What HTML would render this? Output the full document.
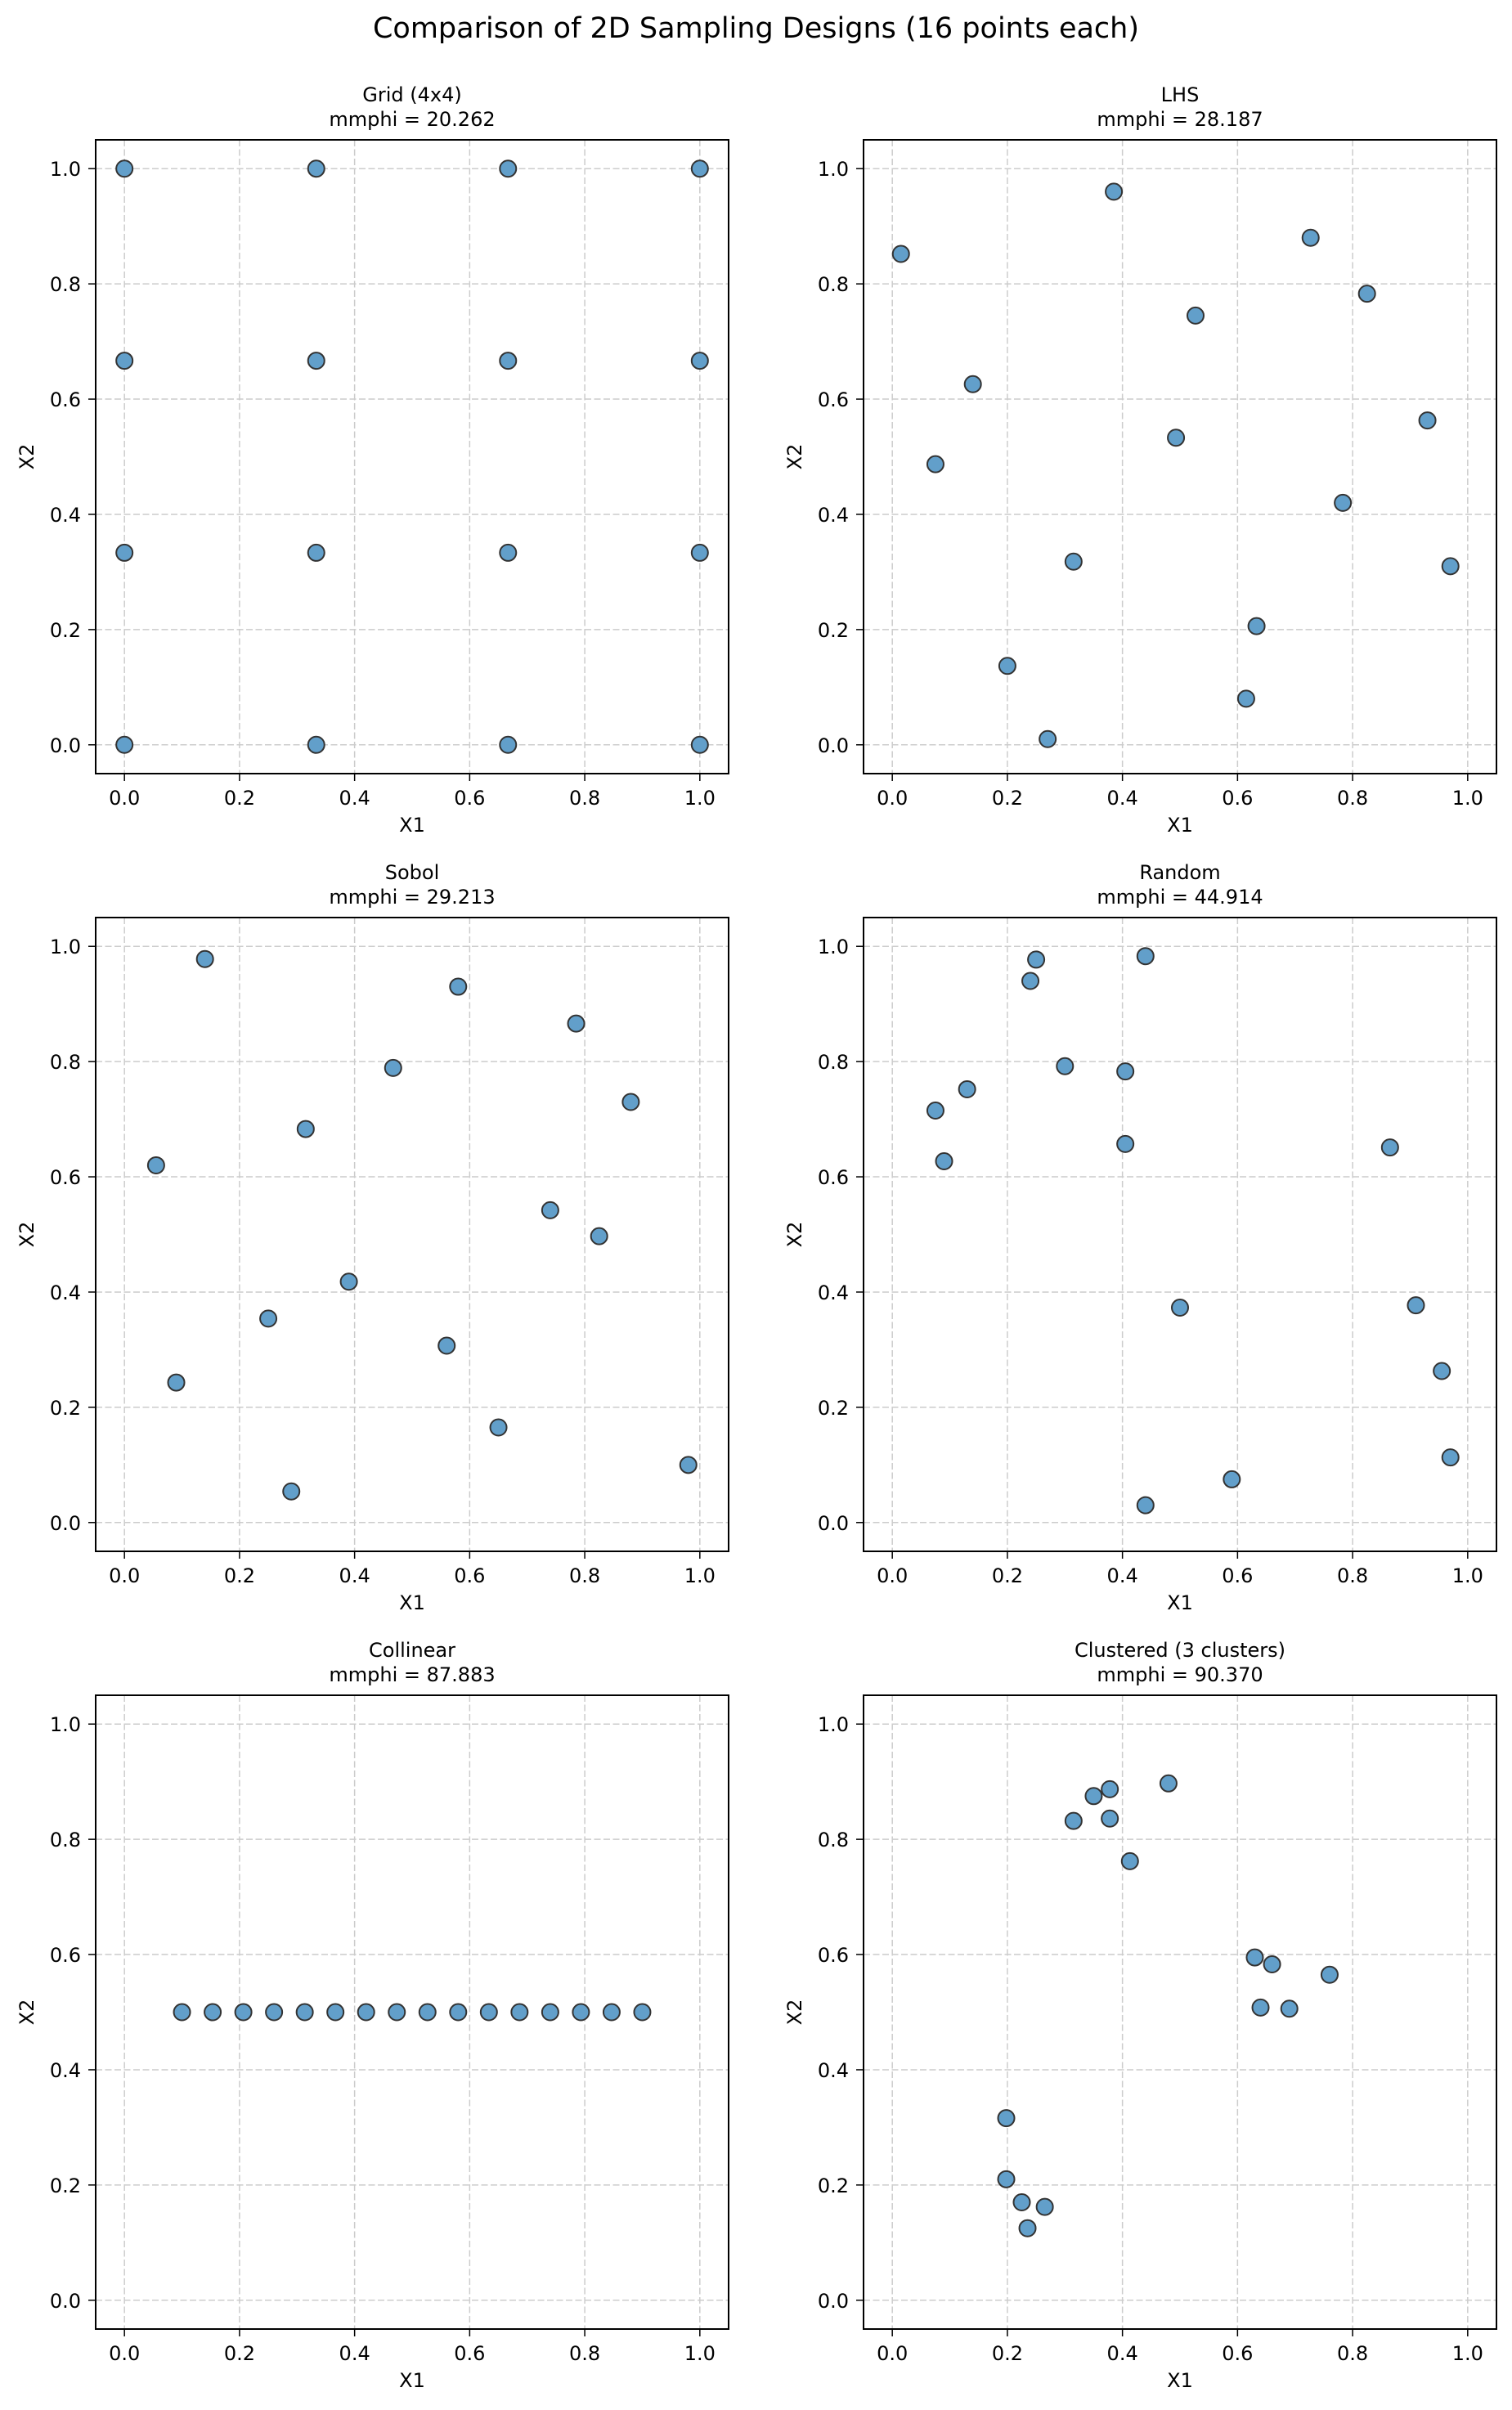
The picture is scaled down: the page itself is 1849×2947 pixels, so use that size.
<!DOCTYPE html>
<html><head><meta charset="utf-8"><style>
html,body{margin:0;padding:0;background:#fff}
svg{display:block}
text{font-family:"DejaVu Sans","Liberation Sans",sans-serif;fill:#000}
</style></head><body>
<svg id="s" width="1849" height="2947" xmlns="http://www.w3.org/2000/svg">
<text x="924.5" y="46" font-size="35" text-anchor="middle">Comparison of 2D Sampling Designs (16 points each)</text>
</svg>
<script>
const S=document.getElementById('s');const NS='http://www.w3.org/2000/svg';
function el(t,a,txt){const e=document.createElementNS(NS,t);for(const k in a)e.setAttribute(k,a[k]);if(txt!==undefined)e.textContent=txt;S.appendChild(e);return e;}
const cols=[117,1056],rows=[171,1122,2073],W=774,H=775;
const g=[];for(const y of [1,2/3,1/3,0])for(const x of [0,1/3,2/3,1])g.push([x,y]);
const col=[];for(let i=0;i<16;i++)col.push([0.1+i*0.8/15,0.5]);
const panels=[
["Grid (4x4)","mmphi = 20.262",g],
["LHS","mmphi = 28.187",[[0.015,0.852],[0.385,0.96],[0.727,0.88],[0.825,0.783],[0.527,0.745],[0.14,0.626],[0.93,0.563],[0.075,0.487],[0.493,0.533],[0.783,0.42],[0.315,0.318],[0.97,0.31],[0.633,0.206],[0.2,0.137],[0.615,0.08],[0.27,0.01]]],
["Sobol","mmphi = 29.213",[[0.14,0.978],[0.58,0.93],[0.785,0.866],[0.467,0.789],[0.88,0.73],[0.315,0.683],[0.055,0.62],[0.74,0.542],[0.825,0.497],[0.39,0.418],[0.25,0.354],[0.56,0.307],[0.09,0.243],[0.65,0.165],[0.98,0.1],[0.29,0.054]]],
["Random","mmphi = 44.914",[[0.25,0.977],[0.44,0.983],[0.24,0.94],[0.3,0.792],[0.405,0.783],[0.13,0.752],[0.075,0.715],[0.09,0.627],[0.405,0.657],[0.865,0.651],[0.5,0.373],[0.91,0.377],[0.955,0.263],[0.97,0.113],[0.59,0.075],[0.44,0.03]]],
["Collinear","mmphi = 87.883",col],
["Clustered (3 clusters)","mmphi = 90.370",[[0.315,0.832],[0.35,0.875],[0.378,0.887],[0.378,0.836],[0.48,0.897],[0.413,0.762],[0.63,0.595],[0.66,0.583],[0.76,0.565],[0.64,0.508],[0.69,0.506],[0.198,0.316],[0.198,0.21],[0.225,0.17],[0.265,0.162],[0.235,0.125]]]
];
panels.forEach((p,i)=>{
 const L=cols[i%2],T=rows[Math.floor(i/2)];
 const px=x=>L+(x+0.05)/1.1*W, py=y=>T+(1.05-y)/1.1*H;
 const ticks=[0,0.2,0.4,0.6,0.8,1.0];
 ticks.forEach(t=>{
  el('line',{x1:px(t),x2:px(t),y1:T,y2:T+H,stroke:'#cccccc','stroke-width':1.5,'stroke-dasharray':'8,3.5'});
  el('line',{x1:L,x2:L+W,y1:py(t),y2:py(t),stroke:'#cccccc','stroke-width':1.5,'stroke-dasharray':'8,3.5'});
  el('line',{x1:px(t),x2:px(t),y1:T+H,y2:T+H+9,stroke:'#000','stroke-width':1.5});
  el('line',{x1:L-9,x2:L,y1:py(t),y2:py(t),stroke:'#000','stroke-width':1.5});
  el('text',{x:px(t),y:T+H+38,'font-size':24,'text-anchor':'middle'},t.toFixed(1));
  el('text',{x:L-18,y:py(t)+9,'font-size':24,'text-anchor':'end'},t.toFixed(1));
 });
 p[2].forEach(d=>el('circle',{cx:px(d[0]),cy:py(d[1]),r:10,fill:'#629fca',stroke:'#333','stroke-width':2}));
 el('rect',{x:L,y:T,width:W,height:H,fill:'none',stroke:'#000','stroke-width':2});
 el('text',{x:L+W/2,y:T-47,'font-size':24,'text-anchor':'middle'},p[0]);
 el('text',{x:L+W/2,y:T-17,'font-size':24,'text-anchor':'middle'},p[1]);
 el('text',{x:L+W/2,y:T+H+71,'font-size':24,'text-anchor':'middle'},'X1');
 el('text',{x:0,y:0,'font-size':24,'text-anchor':'middle',transform:`translate(${L-76},${T+H/2}) rotate(-90)`},'X2');
});
</script>
</body></html>
